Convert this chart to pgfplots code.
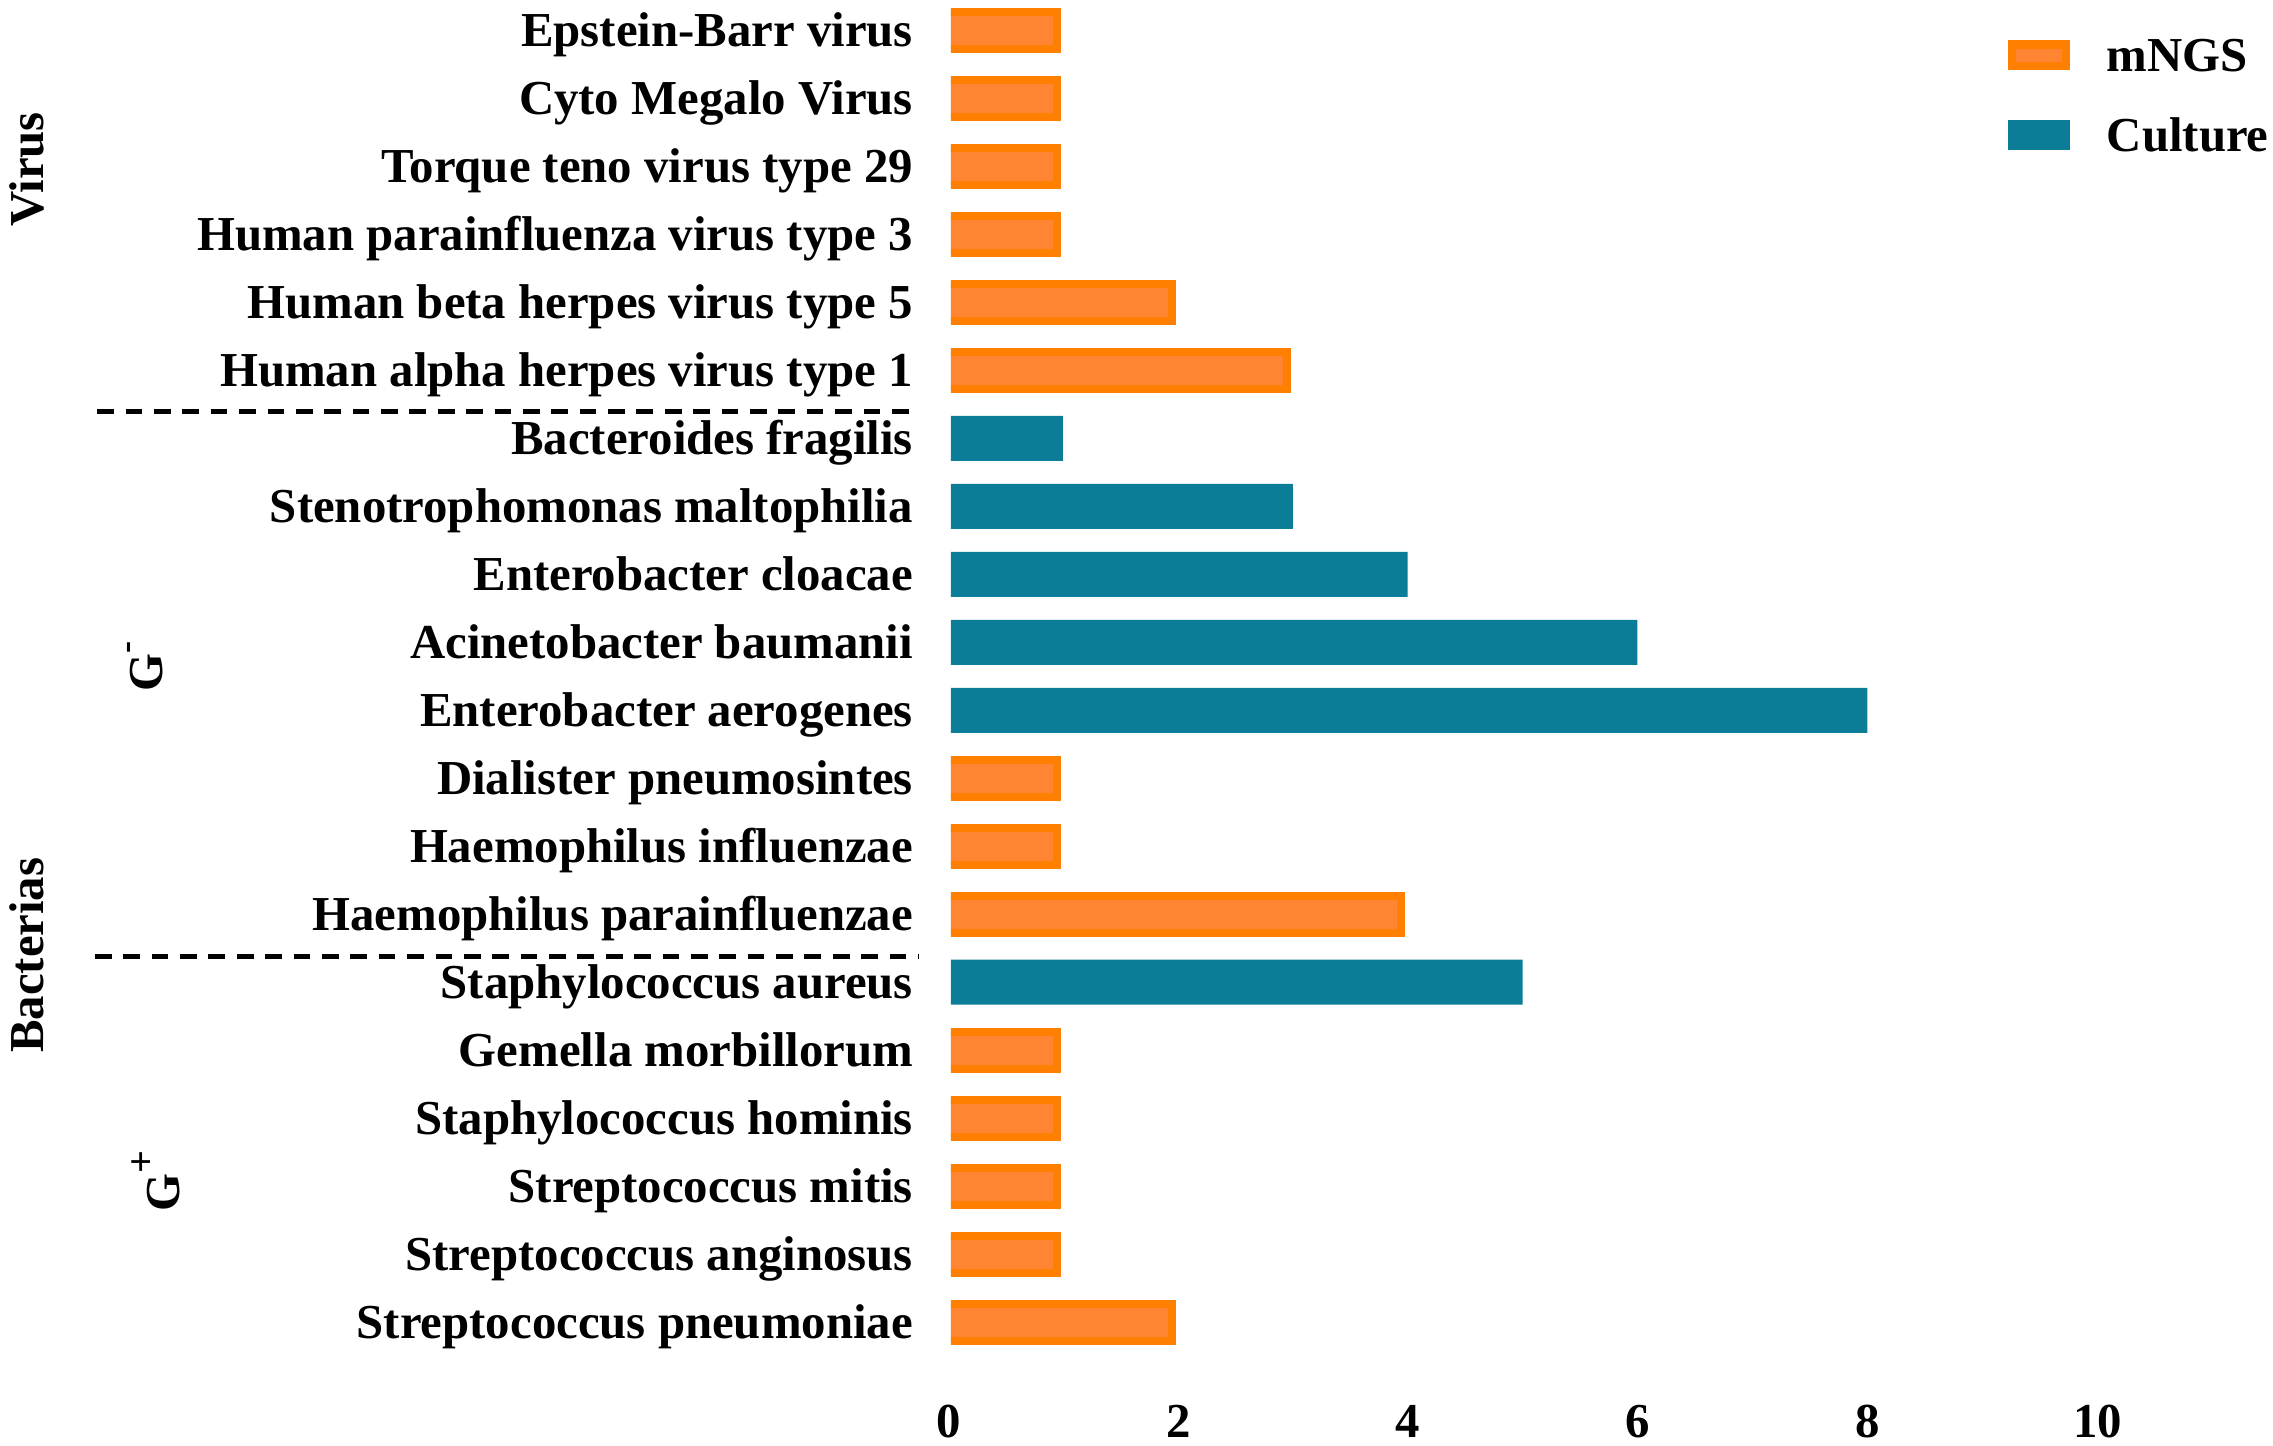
\documentclass[border=0pt]{standalone}
\usepackage{fontspec}
\setmainfont{Liberation Serif}
\usepackage{pgfplots}
\pgfplotsset{compat=1.18}
\definecolor{ngsborder}{RGB}{255,128,0}
\definecolor{ngsfill}{RGB}{255,133,51}
\definecolor{cult}{RGB}{11,125,150}
\newcommand{\lblfont}{\fontsize{12.12}{14.5}\selectfont\bfseries}
\begin{document}
\begin{tikzpicture}[font=\lblfont]
\useasboundingbox (-236.2pt,-30.55pt) rectangle (328.4pt,328.4pt);
\begin{axis}[
  at={(0pt,-8.442pt)}, anchor=south west,
  scale only axis, width=285.4pt, height=337.7pt,
  xmin=0, xmax=10, ymin=-0.5, ymax=19.5,
  axis line style={draw=none},
  major tick length=0pt,
  xtick={0,2,4,6,8,10},
  ytick={0,...,19},
  yticklabels={Streptococcus pneumoniae, Streptococcus anginosus, Streptococcus mitis, Staphylococcus hominis, Gemella morbillorum, Staphylococcus aureus, Haemophilus parainfluenzae, Haemophilus influenzae, Dialister pneumosintes, Enterobacter aerogenes, Acinetobacter baumanii, Enterobacter cloacae, Stenotrophomonas maltophilia, Bacteroides fragilis, Human alpha herpes virus type 1, Human beta herpes virus type 5, Human parainfluenza virus type 3, Torque teno virus type 29, Cyto Megalo Virus, Epstein-Barr virus},
  /pgf/number format/assume math mode=true,
  tick label style={font=\lblfont},
  yticklabel style={anchor=base east, yshift=-4pt, xshift=-5.9pt},
  xticklabel style={anchor=base, yshift=-20.2pt, xshift=-0.6pt},
  xbar, bar shift=0pt,
  clip=true,
  legend cell align=left,
  legend style={at={(axis cs:9.199,18.87)}, anchor=north west, draw=none, fill=none,
    inner sep=0pt, outer sep=0pt, font=\lblfont, row sep=11.87pt, column sep=9.19pt,
    nodes={inner sep=0pt, text height=8pt, text depth=0pt}},
]
\addplot[draw=ngsborder, fill=ngsfill, line width=2pt, bar width=0.544, bar shift=0pt, xshift=-2.25pt,
  /pgfplots/legend image code/.code={\draw[xshift=2.25pt, draw=ngsborder, fill=ngsfill, line width=2pt] (1pt,-2.72pt) rectangle (14.4pt,2.72pt);}]
  coordinates {(1,19) (1,18) (1,17) (1,16) (2,15) (3,14) (1,8) (1,7) (4,6) (1,4) (1,3) (1,2) (1,1) (2,0)};
\addlegendentry{mNGS}
\addplot[draw=none, fill=cult, bar width=0.662, bar shift=0pt, xshift=-0.7pt,
  /pgfplots/legend image code/.code={\fill[xshift=0.7pt, cult] (0pt,-3.72pt) rectangle (15.4pt,3.72pt);}]
  coordinates {(1,13) (3,12) (4,11) (6,10) (8,9) (5,5)};
\addlegendentry{Culture}

\coordinate (d1a) at (axis cs:-7.43,13.39);
\coordinate (d1b) at (axis cs:-0.305,13.39);
\coordinate (d2a) at (axis cs:-7.45,5.385);
\coordinate (d2b) at (axis cs:-0.28,5.385);
\coordinate (lv) at (axis cs:-7.90,16.10);
\coordinate (lb) at (axis cs:-7.90,3.95);
\coordinate (lgm) at (axis cs:-6.858,9.269);
\coordinate (lgp) at (axis cs:-6.71,1.618);
\end{axis}
\draw[line width=1.25pt, dash pattern=on 4.15pt off 2.9pt] (d1a) -- (d1b);
\draw[line width=1.25pt, dash pattern=on 4.15pt off 2.9pt] (d2a) -- (d2b);
\node[rotate=90, anchor=base west, inner sep=0pt, font=\lblfont] at (lv) {Virus};
\node[rotate=90, anchor=base west, inner sep=0pt, font=\lblfont] at (lb) {Bacterias};
\node[rotate=90, anchor=base west, inner sep=0pt, font=\lblfont] at (lgm) {G\raisebox{6.3pt}{\fontsize{9}{9}\selectfont -}};
\node[rotate=90, anchor=base west, inner sep=0pt, font=\lblfont] at (lgp) {G\raisebox{6.4pt}{\fontsize{10}{10}\selectfont +}};
\end{tikzpicture}
\end{document}
